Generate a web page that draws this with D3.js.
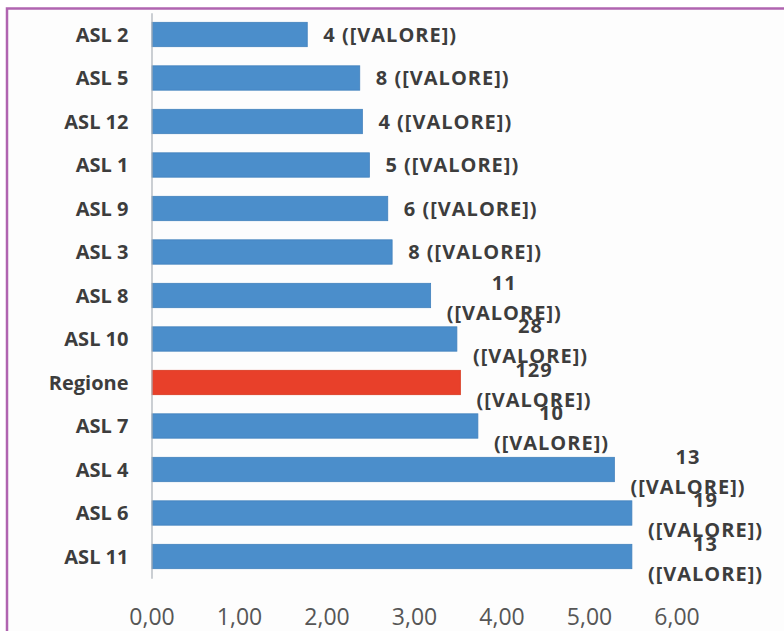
<!DOCTYPE html>
<html>
<head>
<meta charset="utf-8">
<script src="https://cdn.jsdelivr.net/npm/d3@7/dist/d3.min.js"></script>
<style>
  html, body { margin: 0; padding: 0; background: #ffffff; }
  svg { display: block; }
</style>
</head>
<body>
<svg id="chart" width="784" height="631"></svg>
<script>
// Aziende sanitarie, ordered as plotted from top to bottom
const categories = ["ASL 2", "ASL 5", "ASL 12", "ASL 1", "ASL 9", "ASL 3", "ASL 8",
                    "ASL 10", "Regione", "ASL 7", "ASL 4", "ASL 6", "ASL 11"];
// Rate plotted as bar length
const values = [1.78, 2.38, 2.41, 2.49, 2.70, 2.75, 3.19, 3.49, 3.53, 3.73, 5.29, 5.49, 5.49];
// Case counts shown in the data labels
const counts = [4, 8, 4, 5, 6, 8, 11, 28, 129, 10, 13, 19, 13];
const labelSuffix = "([VALORE])";
const xTicks = [0, 1, 2, 3, 4, 5, 6];
const highlight = "Regione";

const svg = d3.select("#chart");
const W = 784, H = 631;

// Outer frame
svg.append("rect")
  .attr("x", 0).attr("y", 0).attr("width", W).attr("height", H)
  .attr("fill", "#ffffff");
svg.append("rect")
  .attr("x", 7).attr("y", 8.5).attr("width", W + 20).attr("height", H + 20)
  .attr("fill", "#fdfdfd")
  .attr("stroke", "#b064b0").attr("stroke-width", 2.5);

const x = d3.scaleLinear().domain([0, 6]).range([151.5, 676.5]);
const y = d3.scaleBand().domain(categories).range([12.75, 578.25])
  .paddingInner(0.44).paddingOuter(0.22);

const it = d3.formatLocale({ decimal: ",", thousands: ".", grouping: [3], currency: ["€", ""] });
const fmt = it.format(".2f");

const blue = "#4b8ecb", red = "#e8402a";
const textDark = "#3d3d3d";

// Bars
svg.append("g").selectAll("rect")
  .data(categories)
  .join("rect")
  .attr("x", x(0) + 0.5)
  .attr("y", d => y(d))
  .attr("width", (d, i) => x(values[i]) - x(0) - 0.5)
  .attr("height", y.bandwidth())
  .attr("fill", d => d === highlight ? red : blue)
  .attr("stroke", d => d === highlight ? "#d8391f" : "#4281bd")
  .attr("stroke-width", 0.8);

// Category axis
const yAxis = svg.append("g")
  .attr("transform", `translate(${x(0)},0)`)
  .call(d3.axisLeft(y).tickSize(0).tickSizeOuter(0).tickPadding(23));
yAxis.select(".domain").attr("stroke", "#a9b0b8").attr("stroke-width", 1.2);
yAxis.selectAll("text")
  .attr("fill", textDark)
  .attr("font-family", "'Open Sans', sans-serif")
  .attr("font-weight", 700)
  .attr("font-size", 20)
  .attr("dy", "0.35em");

// Value axis (labels only)
const xAxis = svg.append("g")
  .attr("transform", "translate(0,578)")
  .call(d3.axisBottom(x).tickValues(xTicks).tickFormat(fmt).tickSize(0).tickPadding(31));
xAxis.select(".domain").remove();
xAxis.selectAll("text")
  .attr("fill", "#565656")
  .attr("font-family", "'Open Sans', sans-serif")
  .attr("font-weight", 400)
  .attr("font-size", 23);

// Data labels: one line when it fits, otherwise wrapped onto two lines
const labelFont = { family: "'Open Sans', sans-serif", weight: 700, size: 20, spacing: 1 };
const gLab = svg.append("g")
  .attr("fill", textDark)
  .attr("font-family", labelFont.family)
  .attr("font-weight", labelFont.weight)
  .attr("font-size", labelFont.size)
  .attr("letter-spacing", labelFont.spacing);

const measure = gLab.append("text").attr("visibility", "hidden");
function textWidth(s) { measure.text(s); return measure.node().getComputedTextLength(); }

const gap = 16, rightLimit = 570, lineGap = 30, baseOff = 7;
categories.forEach((c, i) => {
  const xEnd = x(values[i]);
  const yc = y(c) + y.bandwidth() / 2;
  const full = `${counts[i]} ${labelSuffix}`;
  const wFull = textWidth(full);
  if (xEnd + gap + wFull <= rightLimit) {
    gLab.append("text")
      .attr("x", xEnd + gap)
      .attr("y", yc + baseOff)
      .text(full);
  } else {
    const w2 = textWidth(labelSuffix);
    const cx = xEnd + gap + w2 / 2;
    const t = gLab.append("text").attr("text-anchor", "middle");
    t.append("tspan").attr("x", cx).attr("y", yc + 2 - lineGap / 2 + baseOff).text(String(counts[i]));
    t.append("tspan").attr("x", cx).attr("y", yc + 2 + lineGap / 2 + baseOff).text(labelSuffix);
  }
});
measure.remove();
</script>
</body>
</html>
